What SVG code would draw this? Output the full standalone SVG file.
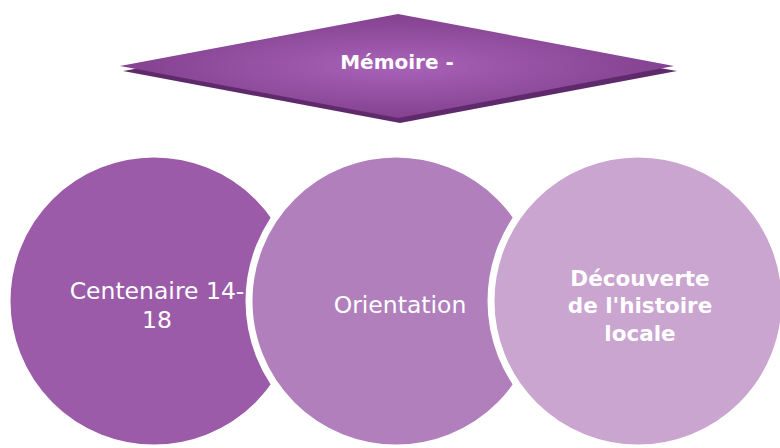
<svg xmlns="http://www.w3.org/2000/svg" width="780" height="448" viewBox="0 0 780 448">
<defs>
<radialGradient id="dg" cx="0.5" cy="0.5" r="0.5">
<stop offset="0" stop-color="#A962B8"/>
<stop offset="1" stop-color="#83418F"/>
</radialGradient>
<style>
.c{stroke:#FFFFFF;stroke-width:7}
.t{font-family:"DejaVu Sans","Liberation Sans",sans-serif;fill:#FFFFFF;text-anchor:middle}
</style>
</defs>
<rect width="780" height="448" fill="#FFFFFF"/>
<g id="memoire">
<polygon points="123,71 400,22 677,71 400,123" fill="#5E2A6B"/>
<polygon points="120,66 398,14 674,66 398,118" fill="url(#dg)"/>
<text class="t" x="397" y="69" font-size="20" font-weight="bold" fill="#F0DDF2">Mémoire -</text>
</g>
<g id="connectors"></g>
<g id="centenaire">
<circle class="c" cx="154" cy="301" r="147" fill="#9B5BA8"/>
<text class="t" x="157" y="299" font-size="23.5">Centenaire 14-</text>
<text class="t" x="157" y="328" font-size="23.5">18</text>
</g>
<g id="orientation">
<circle class="c" cx="396" cy="301" r="147" fill="#B07FBC"/>
<text class="t" x="400" y="313" font-size="23.5">Orientation</text>
</g>
<g id="decouverte">
<circle class="c" cx="638" cy="301" r="147" fill="#C9A5D0"/>
<text class="t" x="640" y="286" font-size="21.5" font-weight="bold">Découverte</text>
<text class="t" x="640" y="313" font-size="21.5" font-weight="bold">de l'histoire</text>
<text class="t" x="640" y="341" font-size="21.5" font-weight="bold">locale</text>
</g>
</svg>
